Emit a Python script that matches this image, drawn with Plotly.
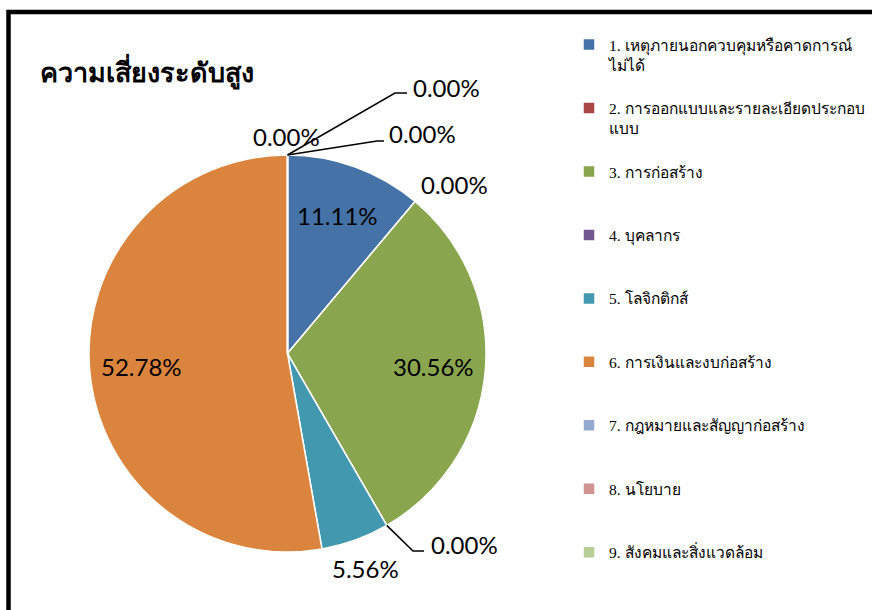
import numpy as np
import plotly.graph_objects as go

# ---- data ----
categories = [
    "1. เหตุภายนอกควบคุมหรือคาดการณ์<br>ไม่ได้",
    "2. การออกแบบและรายละเอียดประกอบ<br>แบบ",
    "3. การก่อสร้าง",
    "4. บุคลากร",
    "5. โลจิกติกส์",
    "6. การเงินและงบก่อสร้าง",
    "7. กฎหมายและสัญญาก่อสร้าง",
    "8. นโยบาย",
    "9. สังคมและสิ่งแวดล้อม",
]
values = [4, 0, 11, 0, 2, 19, 0, 0, 0]
title_text = "ความเสี่ยงระดับสูง"

colors = ["#4572A7", "#AA4643", "#89A54E", "#71588F", "#4198AF",
          "#DB843D", "#93A9CF", "#D19392", "#B9CD96"]

W, H = 872, 610
def px(x): return x / W
def py(y): return 1 - y / H

cx, cy, r = 287.5, 353.5, 198.5

vals = np.array(values, dtype=float)
total = vals.sum()
frac = vals / total
pct_text = [f"{f*100:.2f}%" for f in frac]
cum = np.concatenate([[0], np.cumsum(frac)])

def polar(angle_frac, rad):
    a = 2 * np.pi * angle_frac
    return cx + rad * np.sin(a), cy - rad * np.cos(a)

# legend entries padded to equal heights
legend_labels = []
for c in categories:
    n = c.count("<br>") + 1
    legend_labels.append(c + "<br>&nbsp;" * (3 - n))

fig = go.Figure()
fig.add_trace(go.Pie(
    labels=legend_labels,
    values=values,
    sort=False,
    direction="clockwise",
    rotation=0,
    marker=dict(colors=colors, line=dict(color="white", width=1.5)),
    textinfo="none",
    hoverinfo="label+percent",
    domain=dict(x=[px(cx - r), px(cx + r)], y=[py(cy + r), py(cy - r)]),
    showlegend=True,
))

lab_font = dict(family="Lato, Open Sans, sans-serif", size=24, color="black")
shapes = []
annotations = []

# labels for non-zero slices, at the slice mid-angle
for i, v in enumerate(values):
    if v <= 0:
        continue
    mid = (cum[i] + cum[i + 1]) / 2
    rad = 1.15 * r if frac[i] < 0.08 else 0.74 * r
    x, y = polar(mid, rad)
    annotations.append(dict(text=pct_text[i], x=px(x), y=py(y), xref="paper",
                            yref="paper", xanchor="center", yanchor="middle",
                            showarrow=False, font=lab_font))

# zero-value labels with leader lines
# (slice index, text anchor x, text y, elbow points or None, xanchor)
zero_specs = [
    (1, 419, 184, None, "left"),
    (3, 429, 544, [(413, 551), (424, 551)], "left"),
    (6, 286, 136, None, "center"),
    (7, 387, 134, [(377, 141), (384, 141)], "left"),
    (8, 411, 87, [(395, 93), (407, 93)], "left"),
]
for idx, tx, ty, elbow, xa in zero_specs:
    sx, sy = polar(cum[idx], r)
    if elbow:
        pts = [(sx, sy)] + elbow
        path = "M " + " L ".join(f"{px(x)},{py(y)}" for x, y in pts)
        shapes.append(dict(type="path", path=path, xref="paper", yref="paper",
                           line=dict(color="black", width=1.5)))
    annotations.append(dict(text=pct_text[idx], x=px(tx), y=py(ty), xref="paper",
                            yref="paper", xanchor=xa, yanchor="middle",
                            showarrow=False, font=lab_font))

annotations.append(dict(text="<b>" + title_text + "</b>", x=px(38), y=py(71),
                        xref="paper", yref="paper", xanchor="left", yanchor="middle",
                        showarrow=False,
                        font=dict(family="Tahoma, Noto Sans, sans-serif", size=27, color="black")))

# outer frame
shapes.append(dict(type="rect", xref="paper", yref="paper",
                   x0=px(8.5), x1=px(W + 10), y0=py(H + 10), y1=py(12),
                   line=dict(color="black", width=4.5)))

fig.update_layout(
    width=W, height=H,
    margin=dict(l=0, r=0, t=0, b=0),
    paper_bgcolor="white",
    plot_bgcolor="white",
    shapes=shapes,
    annotations=annotations,
    legend=dict(x=px(569), y=py(28), xanchor="left", yanchor="top",
                valign="top", traceorder="normal",
                font=dict(family="Liberation Serif, serif", size=15.5, color="black"),
                bgcolor="rgba(0,0,0,0)"),
)

fig.write_html("out.html", config={"displayModeBar": False},
               post_script="document.body.style.margin='0';document.body.style.overflow='hidden';")
